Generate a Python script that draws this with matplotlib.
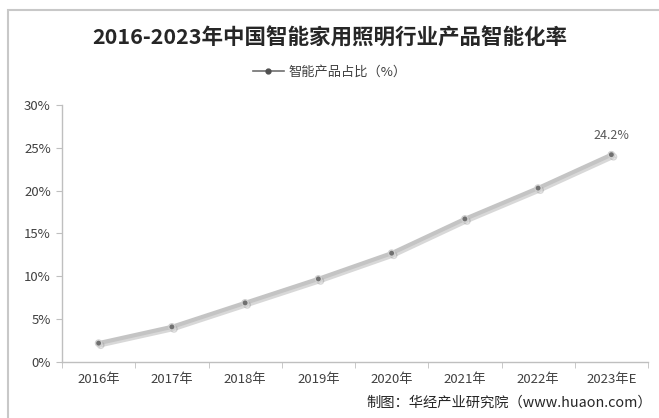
import matplotlib.pyplot as plt
import matplotlib.patheffects as pe
from matplotlib.patches import Rectangle
from matplotlib.lines import Line2D

plt.rcParams['font.family'] = ['Noto Sans CJK SC', 'DejaVu Sans']

# data
years = ["2016年", "2017年", "2018年", "2019年", "2020年", "2021年", "2022年", "2023年E"]
share = [2.2, 4.1, 6.9, 9.7, 12.7, 16.7, 20.3, 24.2]
y_ticks = [0, 5, 10, 15, 20, 25, 30]

fig = plt.figure(figsize=(6.59, 4.18), dpi=100)
fig.patch.set_facecolor("white")

# grey frame round the picture (only left and top visible)
fig.add_artist(Rectangle((8 / 659, -0.1), 1.2, 1.1 - 10 / 418,
                         transform=fig.transFigure, fill=False,
                         edgecolor="#c8c8c8", lw=1.5))

ax = fig.add_axes([62 / 659, 56 / 418, 586 / 659, 257 / 418])

x = list(range(len(years)))
ax.plot(x, share, color="#c4c4c4", lw=3, marker="o", markersize=4.5,
        markerfacecolor="#707070", markeredgecolor="#d0d0d0", markeredgewidth=1,
        path_effects=[pe.SimpleLineShadow(offset=(1.5, -1.5), shadow_color="#909090", alpha=0.35),
                      pe.Normal()])

ax.annotate(f"{share[-1]}%", (x[-1], share[-1]), xytext=(0, 9),
            textcoords="offset points", ha="center", va="bottom",
            fontsize=9, color="#595959")

ax.set_xlim(-0.5, len(years) - 0.5)
ax.set_ylim(0, 30)
ax.set_yticks(y_ticks)
ax.set_yticklabels([f"{v}%" for v in y_ticks])
ax.set_xticks(x)
ax.set_xticklabels(years)
ax.set_xticks([i - 0.5 for i in range(len(years) + 1)], minor=True)
ax.tick_params(axis="x", which="major", length=0, pad=8, labelsize=9.5, colors="#404040")
ax.tick_params(axis="x", which="minor", length=4, color="#bfbfbf")
ax.tick_params(axis="y", length=4, color="#bfbfbf", labelsize=9.5, labelcolor="#404040", pad=4)

for s in ["top", "right"]:
    ax.spines[s].set_visible(False)
for s in ["left", "bottom"]:
    ax.spines[s].set_color("#bfbfbf")
    ax.spines[s].set_linewidth(1)

fig.text(0.5, 1 - 38 / 418, "2016-2023年中国智能家用照明行业产品智能化率",
         ha="center", va="center", fontsize=15.5, fontweight="bold", color="#262626")

handle = Line2D([], [], color="#707070", lw=1.2, marker="o", markersize=3.5,
                markerfacecolor="#505050", markeredgecolor="#505050")
leg = fig.legend([handle], ["智能产品占比（%）"], loc="center",
                 bbox_to_anchor=(0.5, 1 - 72 / 418), frameon=False,
                 fontsize=9.5, handlelength=2.4, handletextpad=0.3)
for t in leg.get_texts():
    t.set_color("#404040")

fig.text(652 / 659, 1 - 403 / 418, "制图：华经产业研究院（www.huaon.com）",
         ha="right", va="center", fontsize=10.3, color="#262626")

plt.savefig("out.png", dpi=100)
